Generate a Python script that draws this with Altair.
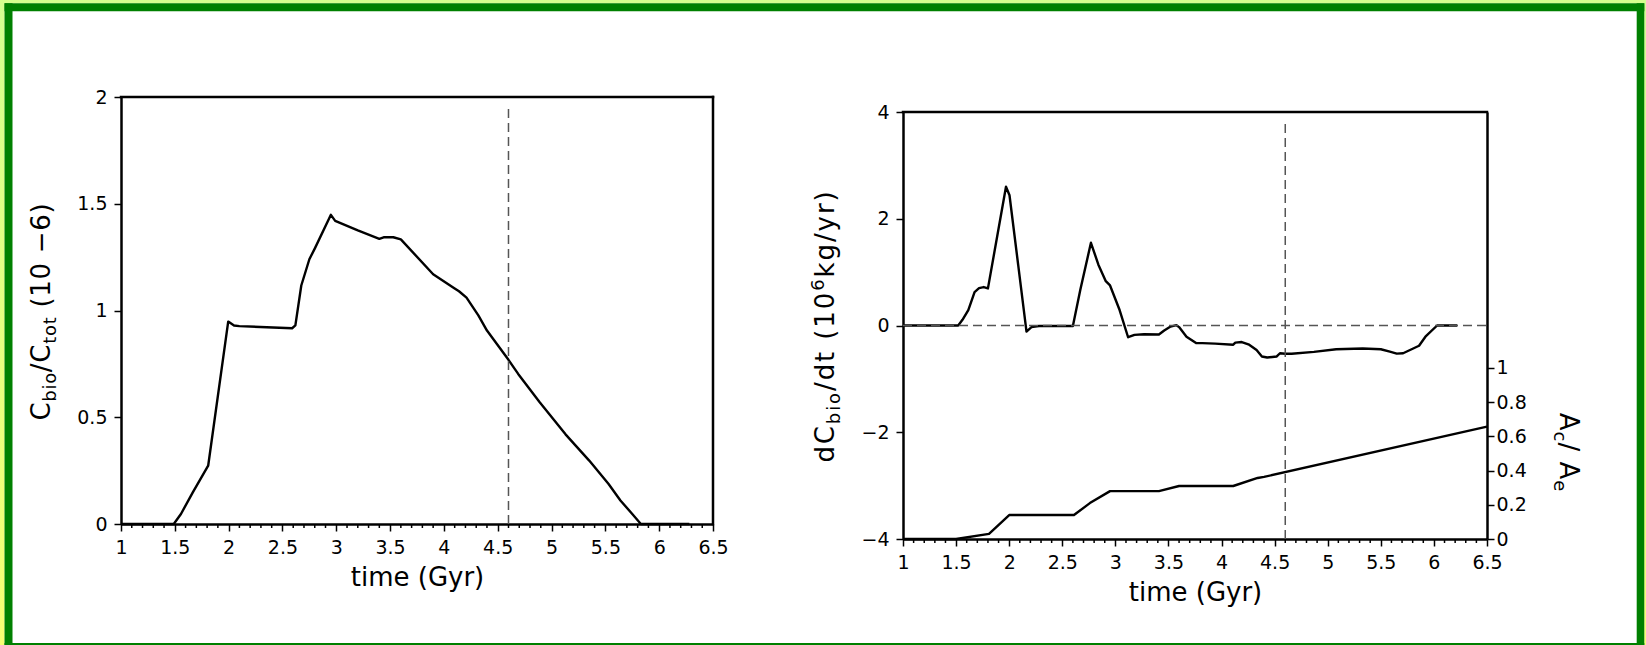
import math
import altair as alt
import pandas as pd

FONT = "DejaVu Sans"
INK = "black"
DASH_COLOR = "#555555"
DARK_GREEN = "#008000"

# ---------------- data ----------------
# left panel: C_bio / C_tot (10^-6) versus time (Gyr)
t_left = [1.0, 1.49, 1.557, 1.667, 1.81, 1.996, 2.05, 2.1, 2.59, 2.62, 2.675, 2.75, 2.8,
          2.95, 2.99, 3.2, 3.4, 3.44, 3.53, 3.6, 3.9, 4.1, 4.14, 4.21, 4.32, 4.4, 4.6,
          4.69, 4.89, 5.13, 5.35, 5.53, 5.64, 5.75, 5.83, 6.28]
c_left = [0.0, 0.0, 0.047, 0.148, 0.273, 0.948, 0.93, 0.927, 0.917, 0.93, 1.117, 1.24, 1.29,
          1.448, 1.42, 1.375, 1.336, 1.343, 1.343, 1.333, 1.17, 1.103, 1.09, 1.06, 0.977, 0.906, 0.769,
          0.703, 0.57, 0.42, 0.297, 0.1875, 0.11, 0.047, 0.0, 0.0]

# right panel: dC_bio/dt (10^6 kg/yr) versus time (Gyr)
t_right = [1.0, 1.52, 1.56, 1.615, 1.674, 1.716, 1.76, 1.80, 1.97, 2.003, 2.163, 2.21, 2.28,
           2.6, 2.67, 2.77, 2.84, 2.91, 2.95, 3.04, 3.12, 3.18, 3.27, 3.41, 3.46, 3.52, 3.575,
           3.6, 3.67, 3.76, 3.82, 3.94, 4.11, 4.13, 4.19, 4.26, 4.33, 4.38, 4.43, 4.52, 4.55,
           4.6, 4.66, 4.87, 5.08, 5.33, 5.5, 5.585, 5.65, 5.71, 5.86, 5.92, 6.03, 6.22]
dc_right = [0.0, 0.0, 0.106, 0.29, 0.627, 0.70, 0.72, 0.695, 2.60, 2.44, -0.113, -0.03, -0.01,
            -0.01, 0.67, 1.55, 1.14, 0.83, 0.75, 0.29, -0.22, -0.175, -0.163, -0.17, -0.094, -0.02, 0.006,
            -0.03, -0.21, -0.33, -0.33, -0.34, -0.36, -0.32, -0.31, -0.36, -0.46, -0.58, -0.6, -0.58, -0.52,
            -0.53, -0.53, -0.495, -0.445, -0.43, -0.445, -0.49, -0.526, -0.52, -0.38, -0.21, 0.0, 0.0]

# right panel, right axis: A_c / A_e
t_area = [1.0, 1.5, 1.81, 2.0, 2.61, 2.76, 2.95, 3.41, 3.6, 4.11, 4.34, 4.4, 6.5]
area_ratio = [0.0, 0.0, 0.03, 0.14, 0.14, 0.21, 0.28, 0.28, 0.31, 0.31, 0.357, 0.363, 0.657]

present_time = [4.6]
left_vline_range = [0.0, 1.96]
right_vline_range = [-4.0, 3.86]
zero_line_x = [1.0, 6.5]
zero_line_y = [0.0]

x_major = [1.0, 1.5, 2.0, 2.5, 3.0, 3.5, 4.0, 4.5, 5.0, 5.5, 6.0, 6.5]
x_minor = [round(1.0 + 0.1 * i, 1) for i in range(56) if i % 5 != 0]
left_y_ticks = [0, 0.5, 1, 1.5, 2]
right_y_ticks = [-4, -2, 0, 2, 4]
area_ticks = [0, 0.2, 0.4, 0.6, 0.8, 1]

# ---------------- layout ----------------
L_X0, L_Y0 = 121, 97          # canvas position of left plot origin
L_W, L_H = 592, 427
R_X0 = 903                    # canvas x of right plot origin (same group top as left)
R_W, R_H = 584, 442
R_TOP = 15                    # right plot frame starts 15px lower
SPACING = R_X0 - (L_X0 + L_W)

one = pd.DataFrame({"k": [0]})

# approximate DejaVu Sans advance widths (em)
W_EM = {' ': 0.318, '(': 0.390, ')': 0.390, '/': 0.337, '−': 0.838,
        'A': 0.684, 'C': 0.698, 'G': 0.775, 'b': 0.635, 'c': 0.550, 'd': 0.635,
        'e': 0.615, 'g': 0.635, 'i': 0.278, 'k': 0.579, 'm': 0.974, 'o': 0.612,
        'r': 0.411, 't': 0.392, 'y': 0.592}
for _d in "0123456789":
    W_EM[_d] = 0.636


def composite_text(segments, cx, cy, angle, tracking):
    """Lay out a title glyph by glyph. segments: (text, fontsize, shift);
    shift>0 lowers (subscript), <0 raises (superscript)."""
    glyphs = [(ch, sz, sh) for s, sz, sh in segments for ch in s]
    total = sum(W_EM.get(ch, 0.6) * sz for ch, sz, _ in glyphs) + tracking * (len(glyphs) - 1)
    rad = math.radians(angle)
    fx, fy = math.cos(rad), math.sin(rad)
    dx, dy = -math.sin(rad), math.cos(rad)
    sx, sy = cx - fx * total / 2, cy - fy * total / 2
    charts = []
    adv = 0.0
    for ch, sz, sh in glyphs:
        if ch != " ":
            px = sx + fx * adv + dx * sh
            py = sy + fy * adv + dy * sh
            charts.append(
                alt.Chart(one).mark_text(text=ch, fontSize=sz, angle=angle % 360, align="left",
                                         baseline="alphabetic", font=FONT, color=INK)
                .encode(x=alt.value(px), y=alt.value(py))
            )
        adv += W_EM.get(ch, 0.6) * sz + tracking
    return charts


def frame_rect(x0, y0, x1, y1, fill):
    return alt.Chart(one).mark_rect(fill=fill, strokeWidth=0).encode(
        x=alt.value(x0 - L_X0), x2=alt.value(x1 - L_X0),
        y=alt.value(y0 - L_Y0), y2=alt.value(y1 - L_Y0))


light_grad = alt.LinearGradient(
    gradient="linear", x1=0, y1=0, x2=0, y2=1,
    stops=[alt.GradientStop(color="#d4ff90", offset=0), alt.GradientStop(color="#f6ff72", offset=1)])

frame = [
    frame_rect(0, 0, 4.5, 645, light_grad),
    frame_rect(0, 0, 1646, 3.3, "#d6ff8e"),
    frame_rect(1644.3, 0, 1646, 645, light_grad),
    frame_rect(4.5, 3.3, 12.5, 645, DARK_GREEN),
    frame_rect(4.5, 3.3, 1644.3, 11.3, DARK_GREEN),
    frame_rect(1636.7, 3.3, 1644.3, 645, DARK_GREEN),
    frame_rect(4.5, 643, 1644.3, 645, DARK_GREEN),
]

x_scale = alt.Scale(domain=[1, 6.5], nice=False, zero=False)


def x_axis():
    return alt.Axis(values=x_major, tickSize=7, labelPadding=7, format="~g", labelFlush=False,
                    labelOverlap=False, title="time (Gyr)", titleY=61, titleBaseline="alphabetic",
                    titleFontSize=26, titleFont=FONT, titleFontWeight="normal", titleColor=INK)


# ---------------- left panel ----------------
left_y_scale = alt.Scale(domain=[0, 2], nice=False, zero=False)

curve_left = alt.Chart(pd.DataFrame({"t": t_left, "c": c_left})).mark_line(
    color=INK, strokeWidth=2.4, strokeJoin="round").encode(
    x=alt.X("t:Q", scale=x_scale, axis=x_axis()),
    y=alt.Y("c:Q", scale=left_y_scale,
            axis=alt.Axis(values=left_y_ticks, tickSize=7, labelPadding=7, format="~g"), title=None),
)

vline_left = alt.Chart(pd.DataFrame({"t": present_time, "lo": [left_vline_range[0]],
                                     "hi": [left_vline_range[1]]})).mark_rule(
    color=DASH_COLOR, strokeDash=[9, 5], strokeWidth=1.5).encode(
    x=alt.X("t:Q", scale=x_scale), y=alt.Y("lo:Q", scale=left_y_scale), y2="hi:Q")

minor_left = alt.Chart(pd.DataFrame({"t": x_minor})).mark_rule(color=INK, strokeWidth=1.5).encode(
    x=alt.X("t:Q", scale=x_scale), y=alt.value(L_H), y2=alt.value(L_H + 4))

top_left = alt.Chart(one).mark_rule(color=INK, strokeWidth=2.5, strokeCap="square").encode(
    x=alt.value(0), x2=alt.value(L_W), y=alt.value(0))
right_left = alt.Chart(one).mark_rule(color=INK, strokeWidth=2.5, strokeCap="square").encode(
    x=alt.value(L_W), y=alt.value(0), y2=alt.value(L_H))

left_title = composite_text(
    [("C", 26, 0), ("bio", 18, 6), ("/C", 26, 0), ("tot", 18, 6), (" (10 −6)", 26, 0)],
    50 - L_X0, 312 - L_Y0, -90, 0.7)

left = alt.layer(*frame, curve_left, vline_left, minor_left, top_left, right_left,
                 *left_title).properties(width=L_W, height=L_H)

# ---------------- right panel ----------------
dc_scale = alt.Scale(domain=[-4, 4], range=[R_H, R_TOP], nice=False, zero=False)

curve_right = alt.Chart(pd.DataFrame({"t": t_right, "v": dc_right})).mark_line(
    color=INK, strokeWidth=2.4, strokeJoin="round").encode(
    x=alt.X("t:Q", scale=x_scale, axis=x_axis()),
    y=alt.Y("v:Q", scale=dc_scale,
            axis=alt.Axis(values=right_y_ticks, tickSize=7, labelPadding=7, format="~g"), title=None),
)

zero_line = alt.Chart(pd.DataFrame({"x0": [zero_line_x[0]], "x1": [zero_line_x[1]],
                                    "v": zero_line_y})).mark_rule(
    color=DASH_COLOR, strokeDash=[9, 5], strokeWidth=1.5).encode(
    x=alt.X("x0:Q", scale=x_scale), x2="x1:Q", y=alt.Y("v:Q", scale=dc_scale))

vline_right = alt.Chart(pd.DataFrame({"t": present_time, "lo": [right_vline_range[0]],
                                      "hi": [right_vline_range[1]]})).mark_rule(
    color=DASH_COLOR, strokeDash=[9, 5], strokeWidth=1.5).encode(
    x=alt.X("t:Q", scale=x_scale), y=alt.Y("lo:Q", scale=dc_scale), y2="hi:Q")

minor_right = alt.Chart(pd.DataFrame({"t": x_minor})).mark_rule(color=INK, strokeWidth=1.5).encode(
    x=alt.X("t:Q", scale=x_scale), y=alt.value(R_H), y2=alt.value(R_H + 4))

top_right = alt.Chart(one).mark_rule(color=INK, strokeWidth=2.5, strokeCap="square").encode(
    x=alt.value(0), x2=alt.value(R_W), y=alt.value(R_TOP))

right_ytitle = composite_text(
    [("dC", 26, 0), ("bio", 18, 6), ("/dt (10", 26, 0), ("6", 18, -10), ("kg/yr)", 26, 0)],
    834 - R_X0, 327 - L_Y0, -90, 1.9)

area_title = composite_text(
    [("A", 26, 0), ("c", 18, 6), ("/ ", 26, 0), ("A", 26, 0), ("e", 18, 6)],
    1560 - R_X0, 452 - L_Y0, 90, 1.0)

inner_right = alt.layer(curve_right, zero_line, vline_right, minor_right, top_right,
                        *right_ytitle, *area_title)

area_line = alt.Chart(pd.DataFrame({"t": t_area, "a": area_ratio})).mark_line(
    color=INK, strokeWidth=2.4, strokeJoin="round").encode(
    x=alt.X("t:Q", scale=x_scale),
    y=alt.Y("a:Q", scale=alt.Scale(domain=[0, 2.497], range=[R_H, R_TOP], nice=False, zero=False),
            axis=alt.Axis(orient="right", values=area_ticks, tickSize=7, labelPadding=2, format="~g"),
            title=None),
)

right = alt.layer(inner_right, area_line).resolve_scale(y="independent").properties(
    width=R_W, height=R_H)

chart = alt.hconcat(left, right, spacing=SPACING, bounds="flush").properties(
    padding=0, background="white"
).configure_view(stroke="transparent", strokeWidth=0).configure_axis(
    labelFont=FONT, labelFontSize=19, labelColor=INK, domainColor=INK, domainWidth=2.5,
    tickColor=INK, tickWidth=1.5, grid=False, zindex=1, titleFont=FONT, titleColor=INK,
)

chart.save("out.html", embed_options={"renderer": "svg", "actions": False})
